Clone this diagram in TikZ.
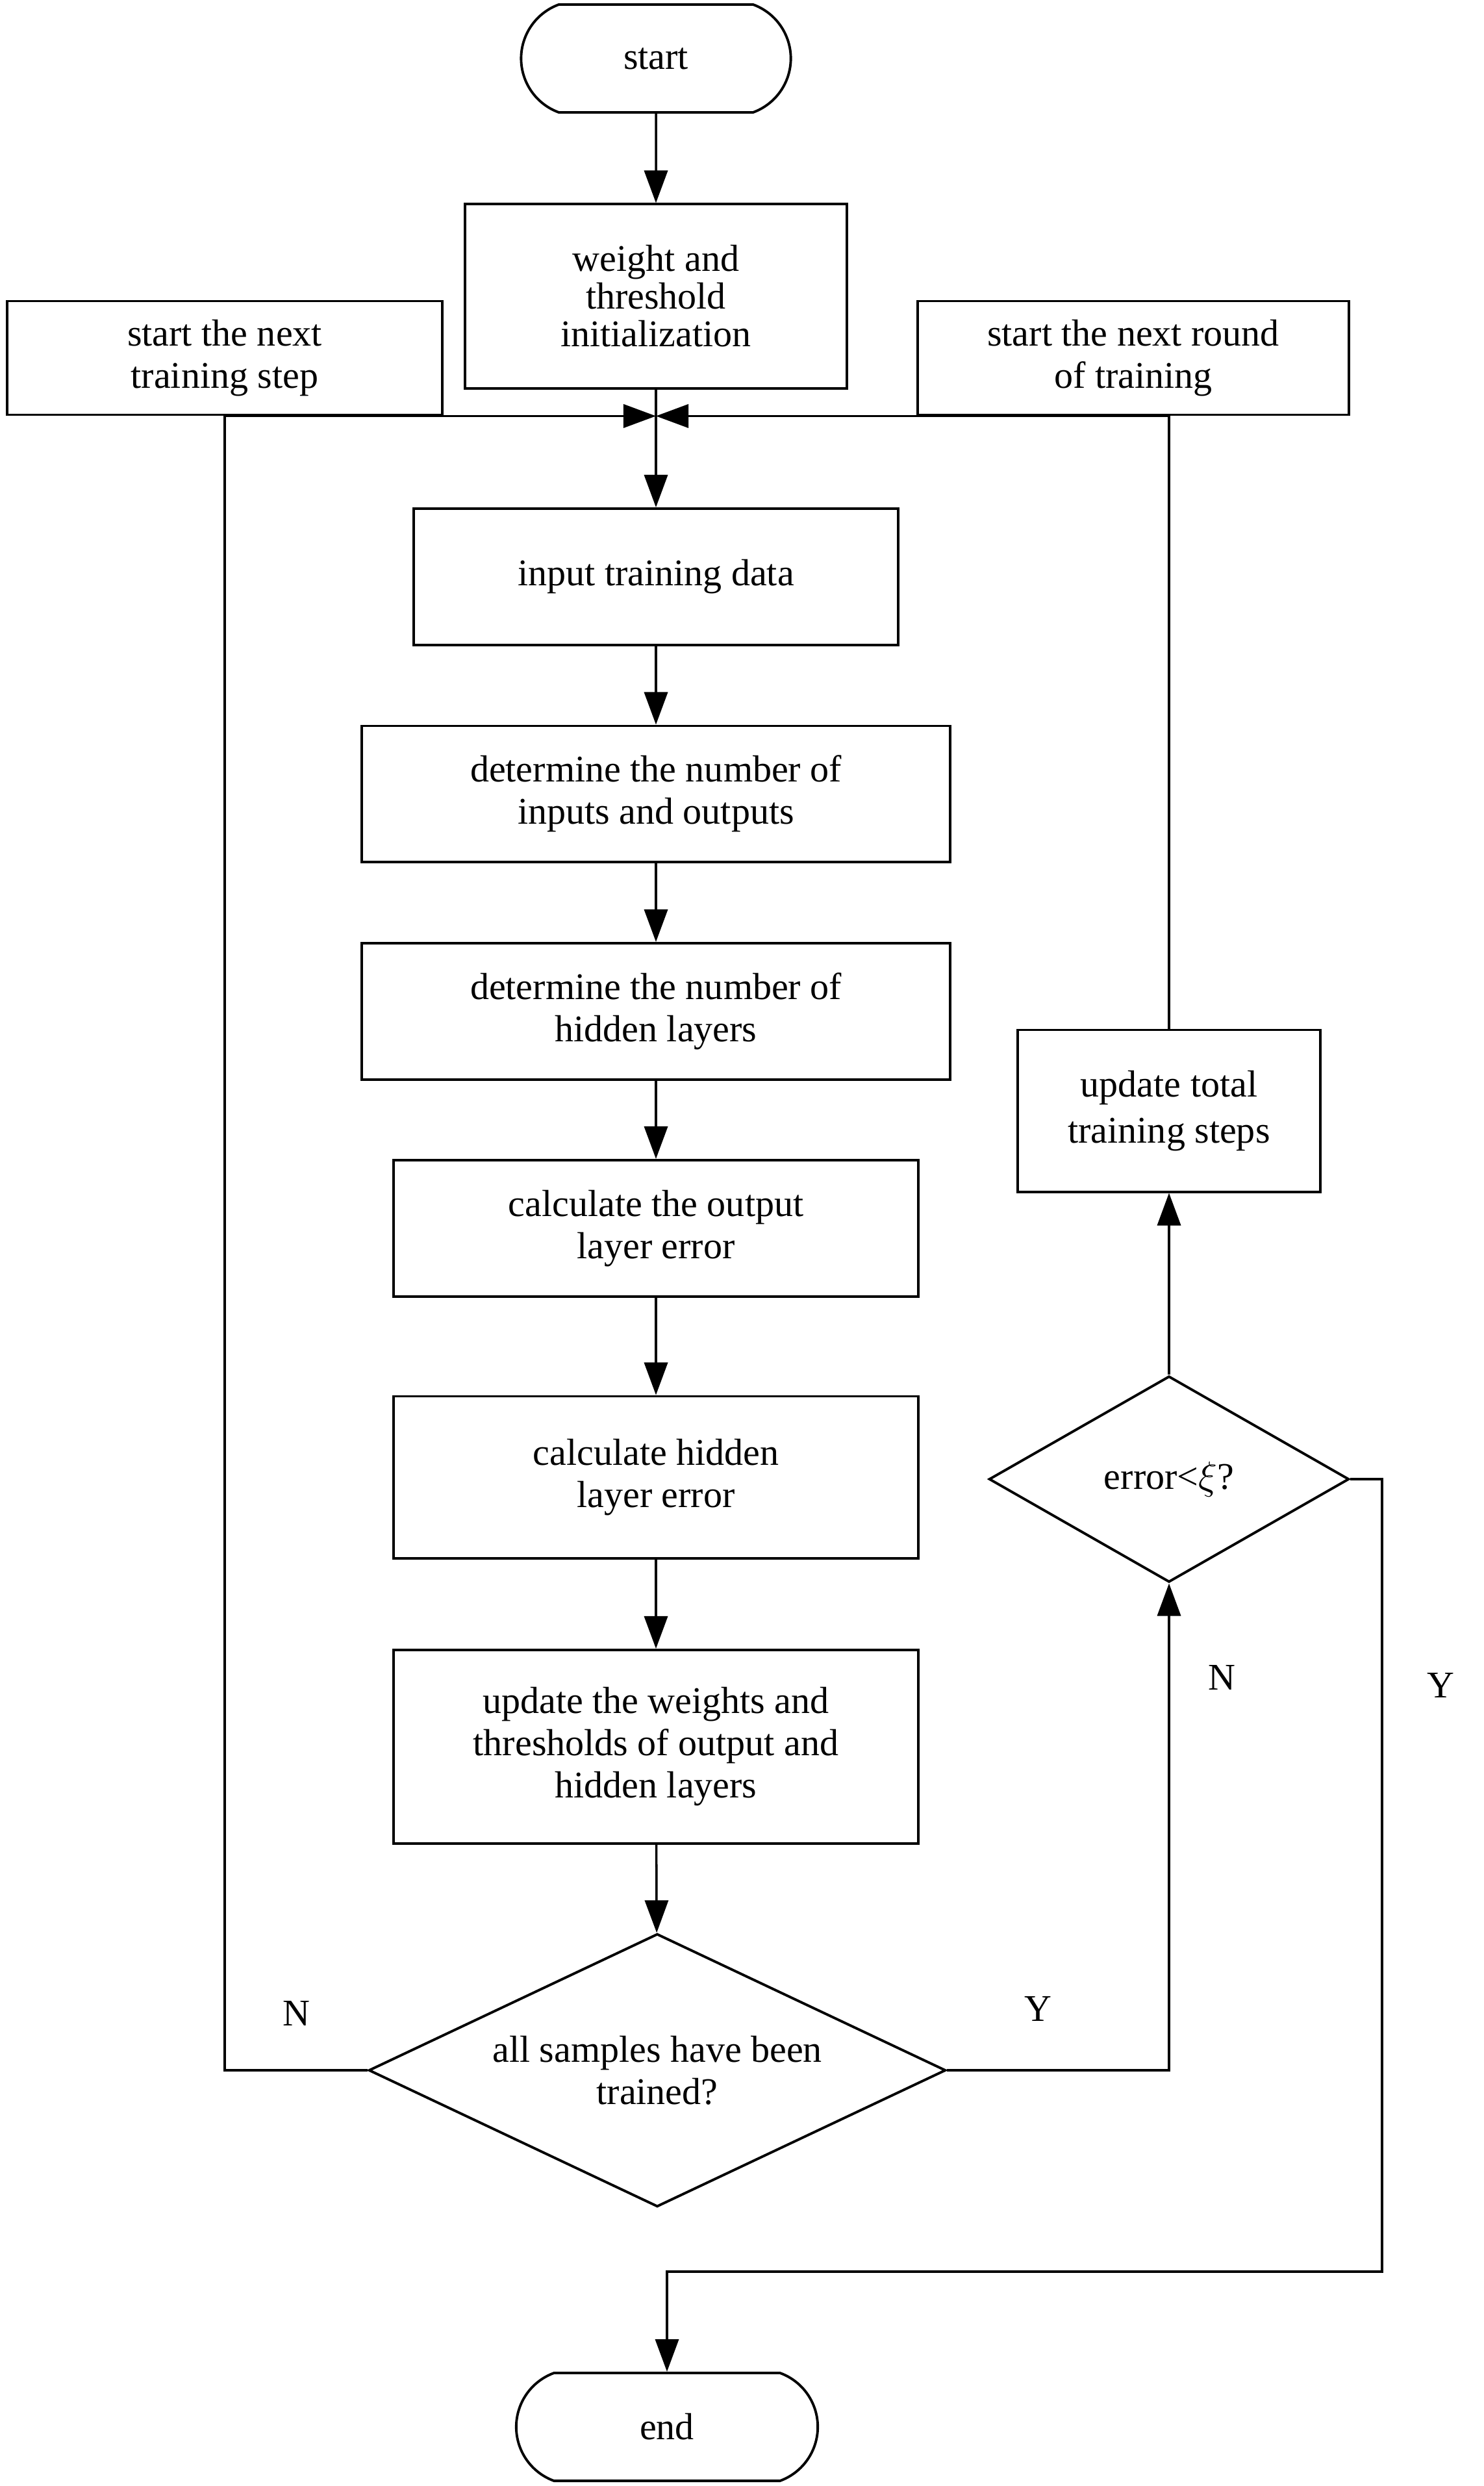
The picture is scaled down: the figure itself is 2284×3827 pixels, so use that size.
\documentclass[tikz,border=0pt]{standalone}
\usepackage{fontspec}
\setmainfont{Liberation Serif}
\usetikzlibrary{shapes.geometric,shapes.misc,arrows.meta}
\newcommand{\mytextsize}{\fontsize{16.5}{18.5}\selectfont}
\begin{document}
\begin{tikzpicture}[x=0.01cm,y=-0.01cm,
  box/.style={draw, line width=1.1pt, align=center, inner sep=0pt, font=\mytextsize},
  term/.style={draw, line width=1.1pt, rounded rectangle, rounded rectangle arc length=140, inner sep=0pt, font=\mytextsize},
  dec/.style={draw, line width=1.1pt, diamond, inner sep=0pt, align=center, font=\mytextsize},
  lbl/.style={font=\mytextsize},
  arr/.style={line width=1pt, -{Triangle[length=0.5cm,width=0.36cm]}},
  ln/.style={line width=1pt}]
\useasboundingbox (0,0) rectangle (2284,3827);

\node[term, minimum width=4.15cm, minimum height=1.66cm] (start) at (1010,90) {start};
\node[box, minimum width=5.88cm, minimum height=2.83cm, font=\fontsize{16.5}{16.5}\selectfont] (init) at (1010,456) {weight and\\threshold\\initialization};
\node[box, minimum width=6.69cm, minimum height=1.75cm] (lbox) at (346,551) {start the next\\training step};
\node[box, minimum width=6.64cm, minimum height=1.75cm] (rbox) at (1745,551) {start the next round\\of training};
\coordinate (junc) at (init.south |- lbox.south);
\node[box, minimum width=7.45cm, minimum height=2.10cm] (input) at (1010,888) {input training data};
\node[box, minimum width=9.05cm, minimum height=2.09cm] (io) at (1010,1222) {determine the number of\\inputs and outputs};
\node[box, minimum width=9.05cm, minimum height=2.10cm] (hid) at (1010,1557) {determine the number of\\hidden layers};
\node[box, minimum width=8.08cm, minimum height=2.10cm] (outerr) at (1010,1891) {calculate the output\\layer error};
\node[box, minimum width=8.08cm, minimum height=2.49cm] (hiderr) at (1010,2274) {calculate hidden\\layer error};
\node[box, minimum width=8.08cm, minimum height=2.98cm] (upd) at (1010,2689) {update the weights and\\thresholds of output and\\hidden layers};
\node[dec, shape aspect=2.1, minimum width=8.88cm, minimum height=4.20cm] (d1) at (1012,3187) {all samples have been\\trained?};
\node[term, minimum width=4.64cm, minimum height=1.66cm] (end) at (1027,3736) {end};
\node[box, minimum width=4.66cm, minimum height=2.49cm, font=\fontsize{16.5}{20}\selectfont] (tot) at (1800,1710) {update total\\training steps};
\node[dec, shape aspect=1.75, minimum width=5.54cm, minimum height=3.17cm] (d2) at (1800,2277) {error<$\xi$?};
\coordinate (c1) at (2128,3497);

\node[lbl] (nl) at (456,3099) {N};
\node[lbl] (yl) at (1598,3092) {Y};
\node[lbl] (n2) at (1881,2582) {N};
\node[lbl] (y2) at (2218,2594) {Y};

\draw[arr] (start) -- (init);
\draw[arr] (init) -- (input);
\draw[arr] (d1.west) -| (lbox.south) -- (junc);
\draw[arr] (tot.north) |- (junc);
\draw[arr] (input) -- (io);
\draw[arr] (io) -- (hid);
\draw[arr] (hid) -- (outerr);
\draw[arr] (outerr) -- (hiderr);
\draw[arr] (hiderr) -- (upd);
\draw[arr] (upd) -- (d1);
\draw[arr] (d1.east) -| (d2.south);
\draw[arr] (d2.north) -- (tot.south);
\draw[arr] (d2.east) -| (c1) -| (end.north);
\end{tikzpicture}
\end{document}
